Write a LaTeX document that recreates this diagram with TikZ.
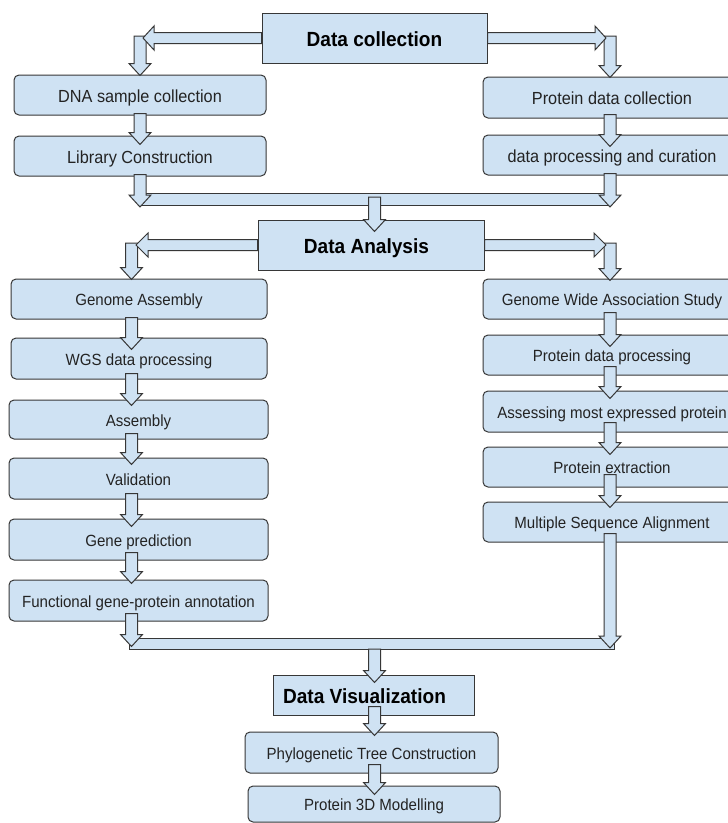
\documentclass[tikz,border=0pt]{standalone}
\usepackage{fontspec}
\setmainfont{Liberation Sans}
\usepackage{graphicx}
\usetikzlibrary{calc}
\definecolor{lb}{RGB}{207,226,243}
\definecolor{lc}{RGB}{55,55,55}
\definecolor{tc}{RGB}{35,35,35}
\newcommand\nt[1]{\scalebox{0.93}[1]{#1}}
% vertical block arrow: #1 column point (x), #2 start point (y), #3 tip point (y)
\newcommand\darrow[3]{\path[barrow] let \p1=(#1), \p2=(#2), \p3=(#3) in
  (\x1-6pt,\y2) -- (\x1+6pt,\y2) -- (\x1+6pt,\y3+12pt) -- (\x1+11pt,\y3+12pt) --
  (\x1,\y3) -- (\x1-11pt,\y3+12pt) -- (\x1-6pt,\y3+12pt) -- cycle;}
% horizontal block arrow: #1 start point, #2 tip point (x), #3 signed head length
\newcommand\harrow[3]{\path[barrow] let \p1=(#1), \p2=(#2) in
  (\x1,\y1+5.5pt) -- ({\x2-(#3)},\y1+5.5pt) -- ({\x2-(#3)},\y1+12pt) -- (\x2,\y1) --
  ({\x2-(#3)},\y1-12pt) -- ({\x2-(#3)},\y1-5.5pt) -- (\x1,\y1-5.5pt) -- cycle;}
\tikzset{
  barrow/.style={draw=lc, fill=lb, line width=1pt, line join=miter},
  barstyle/.style={draw=lc, fill=lb, line width=1pt},
  rbox/.style={draw=lc, fill=lb, line width=1pt, rounded corners=5pt, inner sep=0pt,
    text=tc, font=\fontsize{16.2}{19}\selectfont, text height=13.4pt, text depth=0pt},
  rboxtop/.style={rbox, font=\fontsize{17.5}{21}\selectfont, text height=14.5pt},
  tbox/.style={draw=lc, fill=lb, line width=1pt, inner sep=0pt, text=black,
    font=\fontsize{20.5}{24}\selectfont\bfseries, text height=16pt, text depth=0pt},
}
\begin{document}
\begin{tikzpicture}[x=1pt,y=-1pt]
\useasboundingbox[fill=white] (0,0) rectangle (728,823);
% column positions
\coordinate (cTL) at (140,0);
\coordinate (cTR) at (610,0);
\coordinate (cAL) at (131.5,0);
\coordinate (cAR) at (610,0);
\coordinate (cC) at (374.5,0);
% title boxes
\node[tbox, minimum width=225pt, minimum height=50pt] (dc) at (374.5,38) {\nt{Data collection}};
\node[tbox, minimum width=226pt, minimum height=50pt] (da) at (371,245) {\nt{Data Analysis}\hspace*{9pt}};
\node[tbox, minimum width=201pt, minimum height=40pt] (dv) at (373.5,695) {\nt{Data Visualization}\hspace*{18pt}};
% arrow tips of the title arrows
\coordinate (dcL) at (143,38);
\coordinate (dcR) at (606,38);
\coordinate (daL) at (136,245);
\coordinate (daR) at (606,245);
% collection boxes
\node[rboxtop, minimum width=252pt, minimum height=40pt] (dna) at (140,95) {\nt{DNA sample collection}};
\node[rboxtop, minimum width=252pt, minimum height=40pt] (lib) at (140,156) {\nt{Library Construction}};
\node[rboxtop, minimum width=258pt, minimum height=41pt] (pdc) at (612,97.5) {\nt{Protein data collection}};
\node[rboxtop, minimum width=258pt, minimum height=40pt] (dpc) at (612,155) {\nt{data processing and curation}};
% analysis boxes, left
\node[rbox, minimum width=256pt, minimum height=40pt] (ga) at (139,299) {\nt{Genome Assembly}};
\node[rbox, minimum width=256pt, minimum height=41pt] (wgs) at (139,358.5) {\nt{WGS data processing}};
\node[rbox, minimum width=259pt, minimum height=39pt] (asm) at (138.5,419.5) {\nt{Assembly}};
\node[rbox, minimum width=259pt, minimum height=41pt] (val) at (138.5,478.5) {\nt{Validation}};
\node[rbox, minimum width=259pt, minimum height=41pt] (gp) at (138.5,539.5) {\nt{Gene prediction}};
\node[rbox, minimum width=259pt, minimum height=41pt] (fga) at (138.5,600.5) {\nt{Functional gene-protein annotation}};
% analysis boxes, right
\node[rbox, minimum width=258pt, minimum height=40pt] (gwas) at (612,299) {\nt{Genome Wide Association Study}};
\node[rbox, minimum width=258pt, minimum height=40pt] (pdp) at (612,355) {\nt{Protein data processing}};
\node[rbox, minimum width=258pt, minimum height=41pt] (amep) at (612,411.5) {\nt{Assessing most expressed protein}};
\node[rbox, minimum width=258pt, minimum height=40pt] (pe) at (612,467) {\nt{Protein extraction}};
\node[rbox, minimum width=258pt, minimum height=40pt] (msa) at (612,522) {\nt{Multiple Sequence Alignment}};
% visualization boxes
\node[rbox, minimum width=253pt, minimum height=41pt] (ph) at (371.5,752.5) {\nt{Phylogenetic Tree Construction}};
\node[rbox, minimum width=252pt, minimum height=36pt] (p3d) at (374,804) {\nt{Protein 3D Modelling}};
% merging bars
\draw[barstyle] (139,193) rectangle (610,205);
\draw[barstyle] (129,638) rectangle (614,649);
\coordinate (bar1) at (374.5,199);
\coordinate (bar2) at (374.5,643.5);
\coordinate (bar2b) at (374.5,649);
% collection arrows
\darrow{cTL}{[yshift=2pt]dcL}{[yshift=-1pt]dna.north}
\darrow{cTR}{[yshift=2pt]dcR}{[yshift=-1pt]pdc.north}
\darrow{cTL}{[yshift=2pt]dna.south}{[yshift=-9pt]lib.north}
\darrow{cTR}{[yshift=4pt]pdc.south}{[yshift=-12pt]dpc.north}
\darrow{cTL}{[yshift=2pt]lib.south}{[yshift=-8pt]bar1}
\darrow{cTR}{[yshift=2pt]dpc.south}{[yshift=-8pt]bar1}
\darrow{cC}{[yshift=2pt]bar1}{[yshift=-12pt]da.north}
% analysis arrows, left
\darrow{cAL}{[yshift=2pt]daL}{[yshift=-1pt]ga.north}
\darrow{cAL}{[yshift=2pt]ga.south}{[yshift=-12pt]wgs.north}
\darrow{cAL}{[yshift=6pt]wgs.south}{[yshift=-6pt]asm.north}
\darrow{cAL}{[yshift=6pt]asm.south}{[yshift=-7pt]val.north}
\darrow{cAL}{[yshift=6pt]val.south}{[yshift=-8pt]gp.north}
\darrow{cAL}{[yshift=8pt]gp.south}{[yshift=-4pt]fga.north}
\darrow{cAL}{[yshift=8pt]fga.south}{[yshift=-3pt]bar2}
% analysis arrows, right
\darrow{cAR}{[yshift=2pt]daR}{[yshift=-2pt]gwas.north}
\darrow{cAR}{[yshift=7pt]gwas.south}{[yshift=-12pt]pdp.north}
\darrow{cAR}{[yshift=9pt]pdp.south}{[yshift=-8pt]amep.north}
\darrow{cAR}{[yshift=10pt]amep.south}{[yshift=-8pt]pe.north}
\darrow{cAR}{[yshift=13pt]pe.south}{[yshift=-6pt]msa.north}
\darrow{cAR}{[yshift=9pt]msa.south}{[yshift=-4.5pt]bar2}
% visualization arrows
\darrow{cC}{bar2b}{[yshift=-8pt]dv.north}
\darrow{cC}{[yshift=9pt]dv.south}{[yshift=-4pt]ph.north}
\darrow{cC}{[yshift=9pt]ph.south}{[yshift=-9pt]p3d.north}
% title arrows
\harrow{dc.west}{dcL}{-11pt}
\harrow{dc.east}{dcR}{11pt}
\harrow{da.west}{daL}{-12pt}
\harrow{da.east}{daR}{12pt}
\end{tikzpicture}
\end{document}
